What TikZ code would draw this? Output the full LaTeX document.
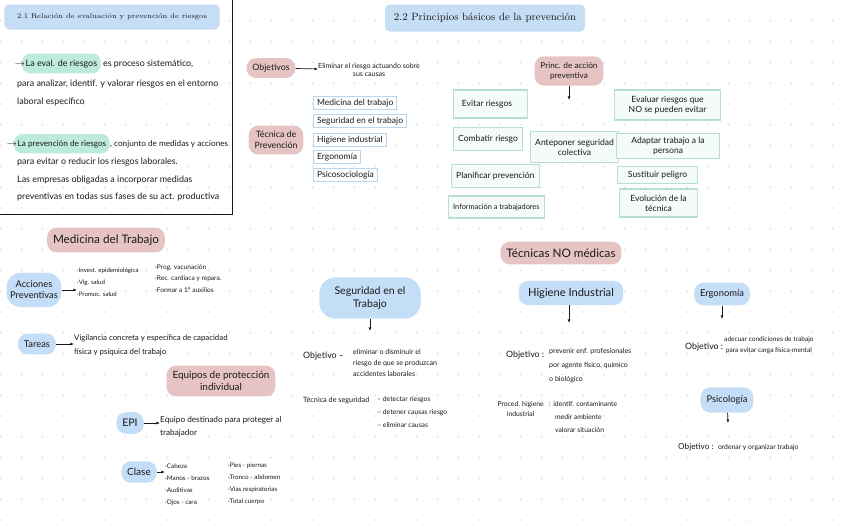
\documentclass[tikz,border=0pt]{standalone}
\usepackage{fontspec}
\newfontfamily\handfont{Lato}
\usetikzlibrary{arrows.meta,positioning,calc}
\definecolor{inkBlack}{HTML}{1A1A1A}
\definecolor{blobPink}{HTML}{E6C4C4}
\definecolor{blobBlue}{HTML}{C4DEF7}
\definecolor{headBlue}{HTML}{C6DDF6}
\definecolor{markGreen}{HTML}{BDEBDB}
\definecolor{lineGreen}{HTML}{B8E0CE}
\definecolor{cardGreen}{HTML}{F5FBF8}
\definecolor{lineBlue}{HTML}{B7D6F4}
\definecolor{gridDot}{HTML}{D9D9D9}
\newcommand\handsize[2]{\handfont\fontsize{#1}{#2}\selectfont}

\begin{document}
\begin{tikzpicture}[x=0.03cm, y=-0.03cm,
    pinkblob/.style={fill=blobPink, rounded corners=8pt, inner xsep=5pt, inner ysep=5pt, text=inkBlack, align=center, font=\handsize{8}{9.5}},
    blueblob/.style={pinkblob, fill=blobBlue},
    bluebox/.style={draw=lineBlue, line width=0.9pt, fill=white, inner xsep=3pt, inner ysep=2pt, text=inkBlack, font=\handsize{7.3}{8}},
    greenbox/.style={draw=lineGreen, line width=0.9pt, fill=cardGreen, inner xsep=4pt, inner ysep=2pt, text=inkBlack, align=center, font=\handsize{7.3}{8.5}},
    headbox/.style={fill=headBlue, rounded corners=4pt, text=inkBlack},
    note/.style={inner sep=0pt, text=inkBlack, font=\handsize{7.6}{9}},
    hlmark/.style={note, fill=markGreen, rounded corners=7pt, inner xsep=3pt, inner ysep=5pt},
    small/.style={inner sep=0pt, text=inkBlack, align=left, font=\handsize{5.5}{9.5}},
    arrow/.style={-{Latex[length=3pt,width=2.5pt]}, line width=0.6pt, inkBlack}]

  \useasboundingbox (0,0) rectangle (848,530);
  \fill[white] (0,0) rectangle (848,530);
  % dotted paper
  \foreach \i in {0,...,40}
    \foreach \j in {1,...,25}
      \fill[gridDot] (0.8+20.8*\i, 20.8*\j) circle (0.75pt);

  % ---- 2.1 ----
  \node[headbox, minimum width=6.45cm, minimum height=0.75cm, font=\rmfamily\fontsize{6}{7}\selectfont] (head21) at (112,17) {2.1 Relación de evaluación y prevención de riesgos};
  \draw[line width=0.7pt, inkBlack] (232,0) -- (232,214) -- (0,214);

  \node[hlmark, anchor=base west] (evalhl) at (22,66) {La eval. de riesgos};
  \node[note, anchor=base east] (evalarr) at ($(evalhl.base west)+(3,0)$) {$\rightarrow$};
  \node[note, anchor=base west] (evalA) at ($(evalhl.base east)+(2,0)$) {es proceso sistemático,};
  \node[note, anchor=base west] (evalB) at (17,86) {para analizar, identif. y valorar riesgos en el entorno};
  \node[note, anchor=base west] (evalC) at (17,104) {laboral específico};

  \node[hlmark, anchor=base west, font=\handsize{7}{9}] (prevhl) at (14,146) {La prevención de riesgos};
  \node[note, anchor=base east] (prevarr) at ($(prevhl.base west)+(3,0)$) {$\rightarrow$};
  \node[note, anchor=base west, font=\handsize{7}{9}] (prevA) at (prevhl.base east) {, conjunto de medidas y acciones};
  \node[note, anchor=base west] (prevB) at (17,164) {para evitar o reducir los riesgos laborales.};
  \node[note, anchor=base west] (prevC) at (17,182) {Las empresas obligadas a incorporar medidas};
  \node[note, anchor=base west] (prevD) at (17,199) {preventivas en todas sus fases de su act. productiva};

  % ---- 2.2 ----
  \node[headbox, minimum width=6cm, minimum height=0.81cm, font=\rmfamily\fontsize{9}{10}\selectfont] (head22) at (485,18) {2.2 Principios básicos de la prevención};

  \node[pinkblob, font=\handsize{7.5}{9}] (objs) at (271,68) {Objetivos};
  \node[small, anchor=west, align=center, font=\handsize{6}{7.5}] (objstxt) at (318,70) {Eliminar el riesgo actuando sobre\\sus causas};
  \draw[arrow] (objs) -- (objstxt);

  \node[pinkblob, font=\handsize{7.5}{9}] (tecprev) at (276,140) {Técnica de\\Prevención};
  \node[bluebox, anchor=west] (medtr) at (313,103) {Medicina del trabajo};
  \node[bluebox, anchor=west] (segtrb) at (313,121) {Seguridad en el trabajo};
  \node[bluebox, anchor=west] (higind) at (313,140) {Higiene industrial};
  \node[bluebox, anchor=west] (ergbox) at (313,157) {Ergonomía};
  \node[bluebox, anchor=west] (psicbox) at (313,175) {Psicosociología};

  \node[pinkblob, font=\handsize{7}{8.5}] (princ) at (569,71) {Princ. de acción\\preventiva};
  \coordinate (princend) at (569,100);
  \draw[arrow] (princ) -- (princend);

  \node[greenbox, anchor=west, minimum width=2.22cm, minimum height=0.84cm] (evitar) at (453,104) {Evitar riesgos\hspace{6pt}};
  \node[greenbox, anchor=west, minimum width=2.07cm, minimum height=0.69cm] (combatir) at (453,139) {Combatir riesgo};
  \node[greenbox, anchor=west, minimum width=2.37cm, minimum height=0.69cm] (planif) at (451,176) {Planificar prevención};
  \node[greenbox, anchor=west, minimum width=2.79cm, minimum height=0.66cm, font=\handsize{6.3}{7}] (inform) at (448,207) {Información a trabajadores};
  \node[greenbox, anchor=west, minimum width=2.52cm, minimum height=0.93cm] (antep) at (530,147) {Anteponer seguridad\\colectiva};
  \node[greenbox, anchor=west, minimum width=3.18cm, minimum height=0.9cm] (evaluar) at (614,105) {Evaluar riesgos que\\NO se pueden evitar};
  \node[greenbox, anchor=west, minimum width=3.09cm, minimum height=0.75cm] (adaptar) at (616,146) {Adaptar trabajo a la\\persona};
  \node[greenbox, anchor=west, minimum width=2.4cm, minimum height=0.51cm] (sustit) at (617,175) {Sustituir peligro};
  \node[greenbox, anchor=west, minimum width=2.34cm, minimum height=0.84cm] (evoluc) at (619,203) {Evolución de la\\técnica};

  % ---- Medicina del Trabajo ----
  \node[pinkblob, font=\handsize{10}{12}, inner ysep=6pt] (medblob) at (106,240) {Medicina del Trabajo};

  \node[blueblob, rounded corners=12pt, inner ysep=7pt, inner xsep=3pt] (accprev) at (34,290) {Acciones\\Preventivas};
  \node[small, anchor=north west, font=\handsize{5.2}{10}] (acclistA) at (77,268) {·Invest. epidemiológica\\·Vig. salud\\·Promoc. salud};
  \node[small, anchor=north west, font=\handsize{5.6}{10}] (acclistB) at (155,264) {·Prog. vacunación\\·Rec. cardiaca y repara.\\·Formar a 1º auxilios};
  \draw[arrow] (accprev.east) -- (accprev.east -| acclistA.west);

  \node[blueblob, inner ysep=6pt] (tareas) at (37,344) {Tareas};
  \node[small, anchor=west, font=\handsize{6.7}{12}] (tareastxt) at (74,345) {Vigilancia concreta y específica de capacidad\\física y psíquica del trabajo};
  \draw[arrow] (tareas.east) -- (tareas.east -| tareastxt.west);

  \node[pinkblob, font=\handsize{8.5}{10}] (epiblob) at (221,381) {Equipos de protección\\individual};

  \node[blueblob, font=\handsize{9}{10}, inner ysep=6pt] (epi) at (130,423) {EPI};
  \node[small, anchor=west, font=\handsize{7}{11}] (epitxt) at (160,427) {Equipo destinado para proteger al\\trabajador};
  \draw[arrow] (epi.east) -- (epi.east -| epitxt.west);

  \node[blueblob, font=\handsize{8.5}{10}, inner ysep=6pt] (clase) at (139,472) {Clase};
  \node[small, anchor=north west, font=\handsize{5.4}{10}] (claseA) at (165,464) {·Cabeza\\·Manos - brazos\\·Auditivas\\·Ojos - cara};
  \node[small, anchor=north west, font=\handsize{5.4}{10}] (claseB) at (228,463) {·Pies - piernas\\·Tronco - abdomen\\·Vías respiratorias\\·Total cuerpo};
  \draw[arrow] (clase.east) -- (clase.east -| claseA.west);

  % ---- Técnicas NO médicas ----
  \node[pinkblob, font=\handsize{10}{12}, inner ysep=6pt] (nomed) at (561,253) {Técnicas NO médicas};

  \node[blueblob, font=\handsize{9}{11}, rounded corners=14pt, inner ysep=8pt, inner xsep=13pt] (segblob) at (370,298) {Seguridad en el\\Trabajo};
  \coordinate (segend) at (370,331);
  \draw[arrow] (segblob) -- (segend);
  \node[note, anchor=base west, font=\handsize{7.5}{9}] (segobj) at (303,358) {Objetivo –};
  \node[small, anchor=north west, font=\handsize{6}{9.5}] (segobjtxt) at (353,349) {eliminar o disminuir el\\riesgo de que se produzcan\\accidentes laborales};
  \node[note, anchor=base west, font=\handsize{6.2}{8}] (segtec) at (303,402) {Técnica de seguridad};
  \node[small, anchor=north west, font=\handsize{5.8}{11}] (segteclist) at (377,396) {– detectar riesgos\\– detener causas riesgo\\– eliminar causas};

  \node[blueblob, font=\handsize{9.5}{11}, inner ysep=6pt, inner xsep=8pt] (higblob) at (571,293) {Higiene Industrial};
  \coordinate (higend) at (569,323);
  \draw[arrow] (higblob.south -| higend) -- (higend);
  \node[note, anchor=base west, font=\handsize{7.5}{9}] (higobj) at (506,357) {Objetivo :};
  \node[small, anchor=north west, font=\handsize{6}{12}] (higobjtxt) at (549,348) {prevenir enf. profesionales\\por agente físico, químico\\o biológico};
  \node[small, anchor=north east, align=center, font=\handsize{5.8}{9}] (higproc) at (544,401) {Proced. higiene\\industrial};
  \node[small, anchor=north west, font=\handsize{5.8}{11}] (higproctxt) at (549,401) {: identif. contaminante\\\hspace*{5pt}medir ambiente\\\hspace*{5pt}valorar situación};

  \node[blueblob, inner ysep=6pt] (ergblob) at (722,294) {Ergonomía};
  \coordinate (ergend) at (722,319);
  \draw[arrow] (ergblob) -- (ergend);
  \node[note, anchor=base west, font=\handsize{7.5}{9}] (ergobj) at (685,349) {Objetivo :};
  \node[small, anchor=north west, align=center, font=\handsize{5.6}{10}] (ergobjtxt) at (724,336) {adecuar condiciones de trabajo\\para evitar carga física-mental};

  \node[blueblob, inner ysep=7pt] (psiblob) at (727,400) {Psicología};
  \coordinate (psiend) at (728,423);
  \draw[arrow] (psiblob) -- (psiend);
  \node[note, anchor=base west, font=\handsize{7}{9}] (psiobj) at (678,449) {Objetivo :};
  \node[note, anchor=base west, font=\handsize{5.8}{8}] (psiobjtxt) at ($(psiobj.base east)+(4,0)$) {ordenar y organizar trabajo};
\end{tikzpicture}
\end{document}
